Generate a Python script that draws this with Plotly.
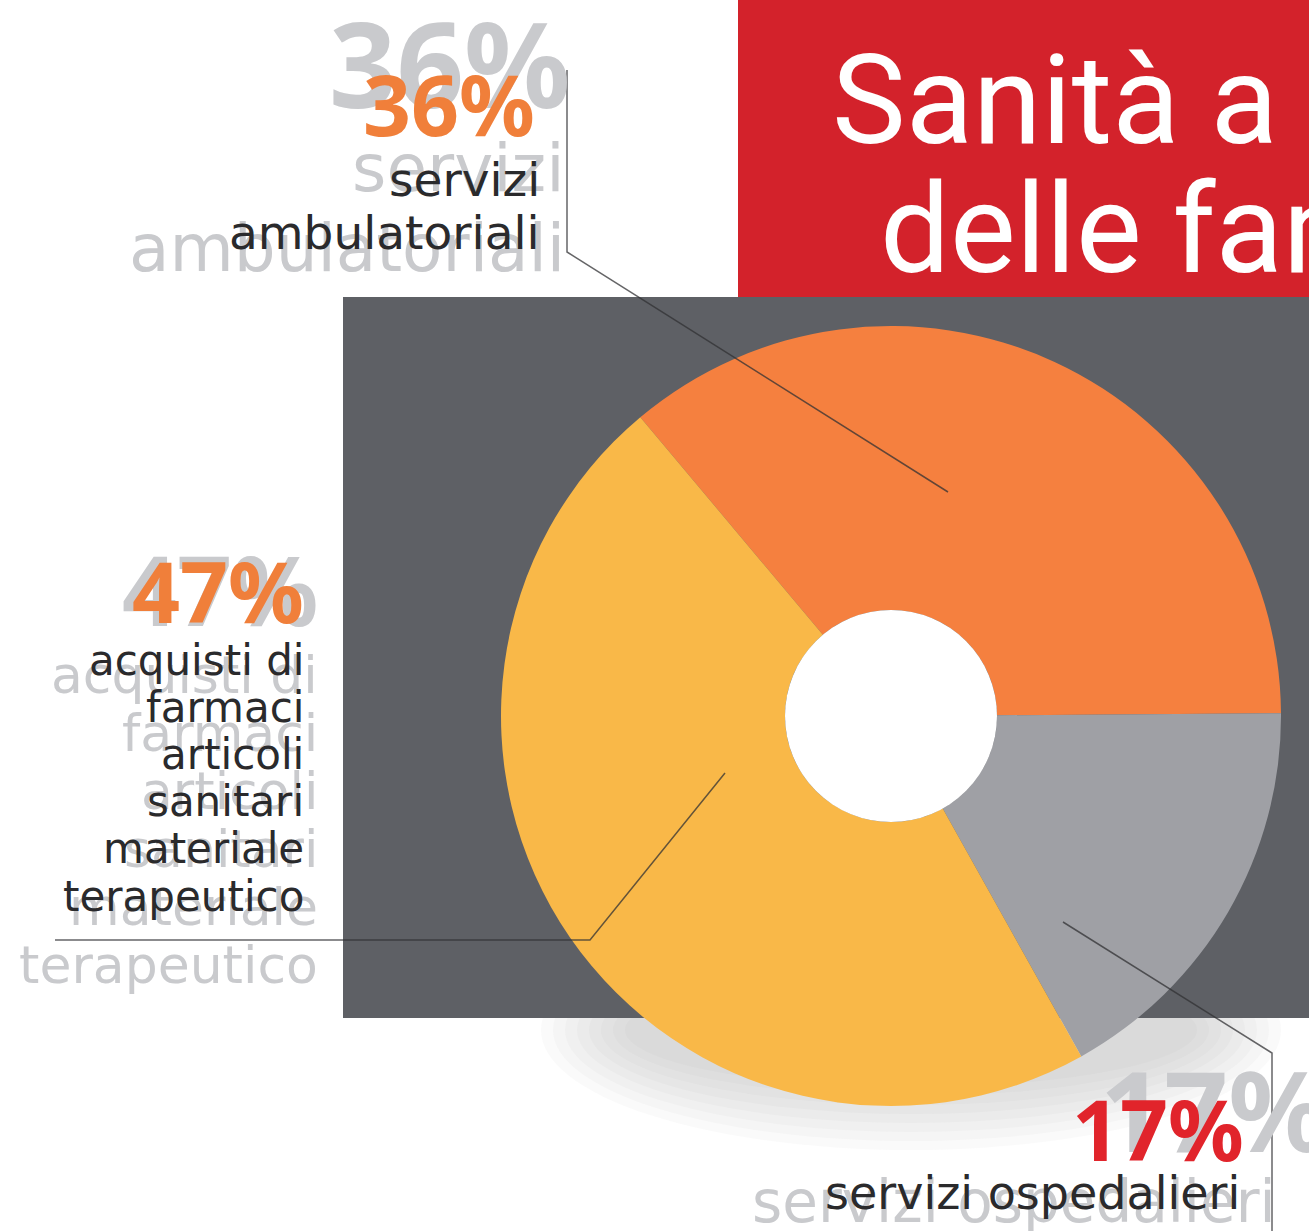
import plotly.graph_objects as go

W, H = 1309, 1231

# ---- data ----
categories = ["servizi ambulatoriali", "servizi ospedalieri",
              "acquisti di farmaci articoli sanitari materiale terapeutico"]
values = [36, 17, 47]
slice_colors = ["#f5803f", "#9fa0a5", "#f9b848"]
pct_labels = ["36%", "17%", "47%"]
pct_colors = ["#f07f3a", "#e1242b", "#f07f3a"]
label_36 = ["servizi", "ambulatoriali"]
label_47 = ["acquisti di", "farmaci", "articoli", "sanitari", "materiale", "terapeutico"]
label_17 = ["servizi ospedalieri"]
title_lines = ["Sanità a carico", "delle famiglie"]


def px(x):
    return x / W


def py(y):
    return 1 - y / H


FONT = "DejaVu Sans, Noto Sans, sans-serif"
PFONT = "Noto Sans, Open Sans, sans-serif"
TFONT = "Roboto, Liberation Sans Narrow, sans-serif"
GHOST = "#c9cacd"
DARK = "#2a2a2c"

CX, CY, R, RH = 891, 716, 390, 106

fig = go.Figure()
fig.add_trace(go.Pie(
    labels=categories, values=values, sort=False, direction="clockwise",
    rotation=-40, hole=RH / R,
    marker=dict(colors=slice_colors, line=dict(width=0)),
    textinfo="none", hoverinfo="label+percent", showlegend=False,
    domain=dict(x=[px(CX - R), px(CX + R)], y=[py(CY + R), py(CY - R)]),
))

shapes = []
# soft shadow under pie (stacked very faint ellipses)
for k in range(8):
    dx = 370 - 12 * k
    dy = 120 - 9 * k
    shapes.append(dict(type="circle", xref="paper", yref="paper", layer="below",
                       x0=px(CX + 20 - dx), x1=px(CX + 20 + dx),
                       y0=py(1030 + dy), y1=py(1030 - dy),
                       fillcolor="rgba(140,140,148,0.045)", line=dict(width=0)))
shapes += [
    # dark panel
    dict(type="rect", xref="paper", yref="paper", layer="below",
         x0=px(343), x1=1.01, y0=py(1018), y1=py(297),
         fillcolor="#5e6065", line=dict(width=0)),
    # red title box
    dict(type="rect", xref="paper", yref="paper", layer="below",
         x0=px(738), x1=1.01, y0=py(297), y1=1.02,
         fillcolor="#d3222b", line=dict(width=0)),
    # white hole
    dict(type="circle", xref="paper", yref="paper", layer="above",
         x0=px(CX - RH), x1=px(CX + RH), y0=py(CY + RH), y1=py(CY - RH),
         fillcolor="white", line=dict(width=0)),
    # leader lines
    dict(type="path", xref="paper", yref="paper",
         path=f"M {px(567)},{py(70)} L {px(567)},{py(252)} L {px(948)},{py(492)}",
         line=dict(color="rgba(50,50,52,0.75)", width=1.5)),
    dict(type="path", xref="paper", yref="paper",
         path=f"M {px(725)},{py(773)} L {px(590)},{py(940)} L {px(55)},{py(940)}",
         line=dict(color="rgba(50,50,52,0.75)", width=1.5)),
    dict(type="path", xref="paper", yref="paper",
         path=f"M {px(1063)},{py(922)} L {px(1272)},{py(1053)} L {px(1272)},{py(1240)}",
         line=dict(color="rgba(50,50,52,0.75)", width=1.5)),
]

ann = []


def text(t, x, y, size, color, anchor="right", bold=False, family=FONT):
    s = f"<b>{t}</b>" if bold else t
    ann.append(dict(text=s, x=px(x), y=py(y), xref="paper", yref="paper",
                    xanchor=anchor, yanchor="middle", showarrow=False,
                    font=dict(size=size, color=color, family=family)))


# title
text(title_lines[0], 830, 100, 124, "white", anchor="left", family=TFONT)
text(title_lines[1], 878, 230, 124, "white", anchor="left", family=TFONT)

# 36% block
text(pct_labels[0], 572, 62, 118, GHOST, bold=True, family=PFONT)
text(label_36[0], 567, 168, 66, GHOST)
text(label_36[1], 567, 248, 66, GHOST)
text(pct_labels[0], 537, 104, 84, pct_colors[0], bold=True, family=PFONT)
text(label_36[0], 542, 180, 47, DARK)
text(label_36[1], 542, 232, 47, DARK)

# 47% block
text(pct_labels[2], 320, 588, 96, GHOST, bold=True, family=PFONT)
for i, t in enumerate(label_47):
    text(t, 320, 675 + 58 * i, 52, GHOST)
text(pct_labels[2], 306, 590, 84, pct_colors[2], bold=True, family=PFONT)
for i, t in enumerate(label_47):
    text(t, 306, 660 + 47.2 * i, 42, DARK)

# 17% block
text(pct_labels[1], 1098, 1108, 112, GHOST, anchor="left", bold=True, family=PFONT)
text(label_17[0], 750, 1202, 58, GHOST, anchor="left")
text(pct_labels[1], 1246, 1128, 84, pct_colors[1], bold=True, family=PFONT)
text(label_17[0], 1242, 1193, 46, DARK)

fig.update_layout(
    width=W, height=H, margin=dict(l=0, r=0, t=0, b=0),
    paper_bgcolor="white", plot_bgcolor="white",
    shapes=shapes, annotations=ann,
)
fig.write_html("out.html",
               config={"displayModeBar": False},
               post_script="document.body.style.margin='0px';"
                           "document.body.style.overflow='hidden';")
